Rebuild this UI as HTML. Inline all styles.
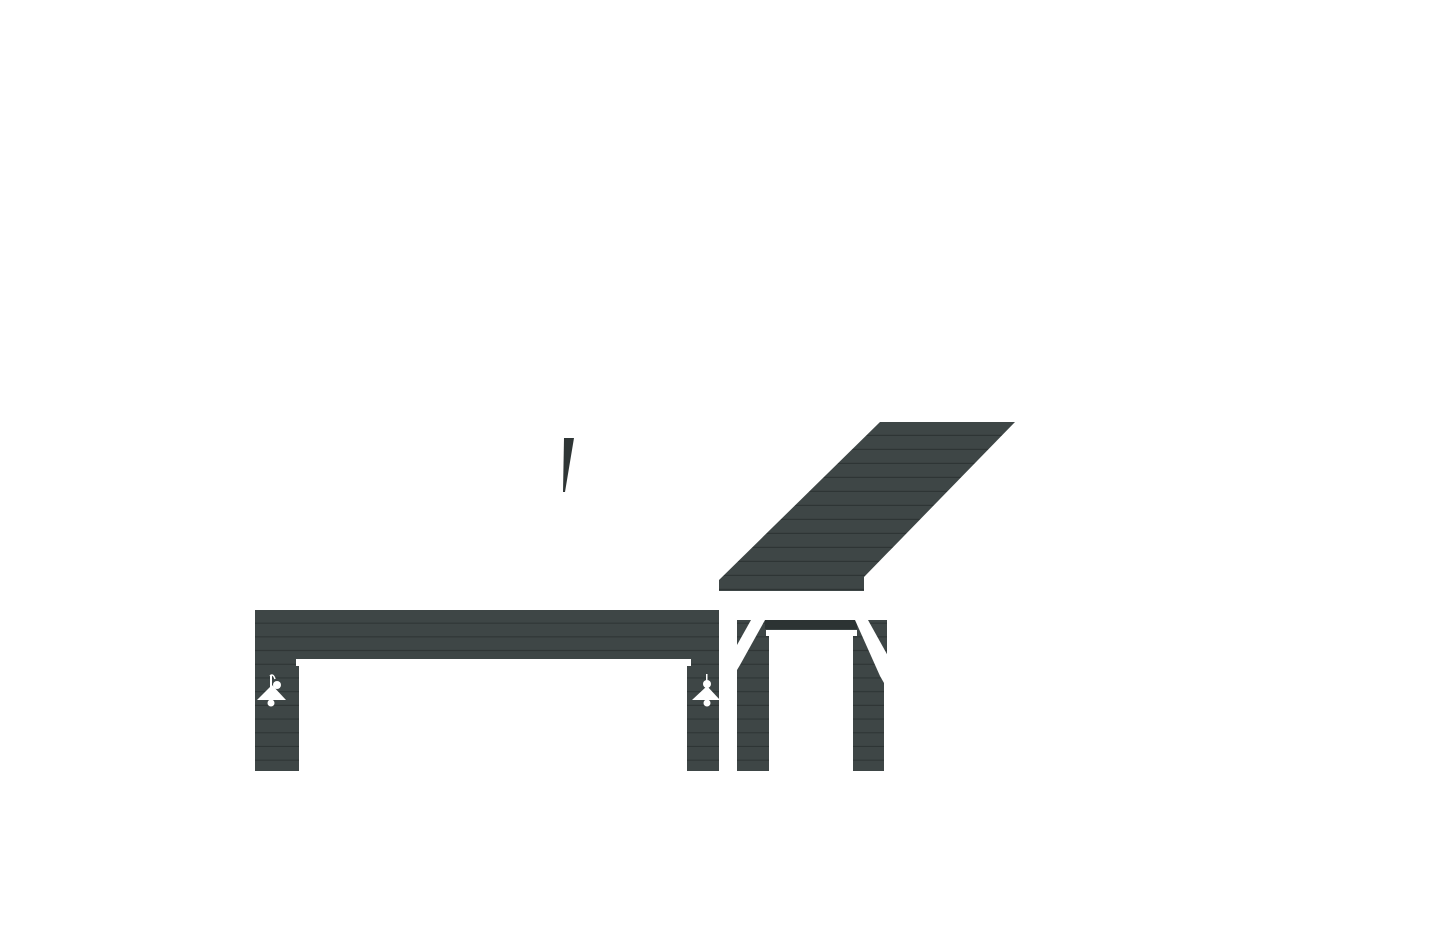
<!DOCTYPE html>
<html><head><style>html,body{margin:0;padding:0;background:#fff;width:1440px;height:930px;overflow:hidden}</style></head>
<body>
<svg width="1440" height="930" xmlns="http://www.w3.org/2000/svg">
<defs>
<pattern id="sid" x="0" y="610" width="20" height="13.7" patternUnits="userSpaceOnUse">
<rect width="20" height="13.7" fill="#3e4646"/>
<rect y="12.6" width="20" height="1.1" fill="#2e3535"/>
</pattern>
<pattern id="sid2" x="0" y="422" width="20" height="14" patternUnits="userSpaceOnUse">
<rect width="20" height="14" fill="#3e4646"/>
<rect y="12.8" width="20" height="1.2" fill="#2e3535"/>
</pattern>
</defs>
<polygon points="564,438 574,438 565,492 563,492" fill="#2f3636"/>
<polygon points="880,422 1015,422 864,577 864,591 719,591 719,580" fill="url(#sid2)"/>
<rect x="255" y="610" width="464" height="161" fill="url(#sid)"/>
<rect x="296" y="659" width="395" height="7" fill="#fff"/>
<rect x="299" y="664" width="388" height="108" fill="#fff"/>
<g fill="#fff">
<circle cx="277" cy="685" r="4"/><rect x="270" y="675" width="2" height="14"/><path d="M270,676 q3,-3 5,3" stroke="#fff" fill="none" stroke-width="1.5"/>
<polygon points="272,685 286,700 257,700"/><circle cx="271" cy="703" r="3.5"/>
<circle cx="707" cy="684" r="4"/><rect x="706" y="674" width="1.5" height="10"/>
<polygon points="707,686 720,700 692,700"/><circle cx="707" cy="703" r="3.5"/>
</g>
<rect x="737" y="620" width="151" height="151" fill="url(#sid)"/>
<rect x="765" y="620" width="92" height="9" fill="#2c3333"/>
<rect x="766" y="630" width="91" height="6" fill="#fff"/>
<rect x="769" y="636" width="84" height="136" fill="#fff"/>
<polygon points="751,620 765,620 740,665 737,670 737,645" fill="#fff"/>
<polygon points="855,620 868,620 888,656 888,690 880,676" fill="#fff"/>
<rect x="884" y="676" width="7" height="96" fill="#fff"/>
<rect x="887" y="620" width="4" height="152" fill="#fff"/>
</svg>
</body></html>
